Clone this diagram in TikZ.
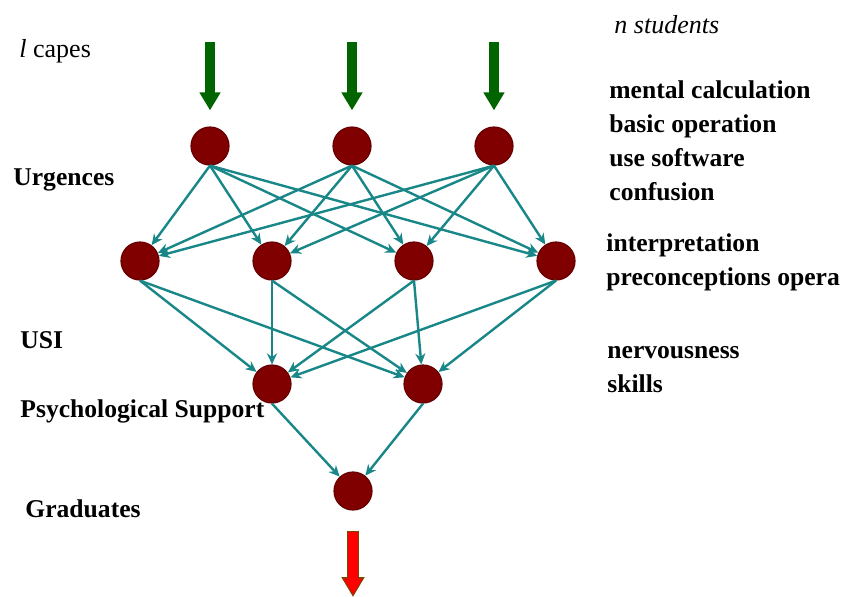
\documentclass[tikz,border=0pt]{standalone}
\usepackage{fontspec}
\setmainfont{Liberation Serif}
\usetikzlibrary{arrows.meta}
\definecolor{nodered}{RGB}{128,0,0}
\definecolor{edgeteal}{RGB}{25,135,135}
\definecolor{ingreen}{RGB}{0,100,0}
\definecolor{outedge}{RGB}{120,70,0}

\begin{document}
\begin{tikzpicture}[x=0.5pt,y=-0.5pt,
	dot/.style={circle,fill=nodered,draw=nodered!80!black,line width=0.6pt,minimum size=19pt,inner sep=0pt},
	link/.style={draw=edgeteal,line width=1.2pt,-{Stealth[length=5.5pt,width=5pt]}},
	inarrow/.style={draw=ingreen,line width=5pt,-{Triangle[width=10pt,length=9pt]},shorten >=8pt},
	lab/.style={anchor=west,inner sep=0pt,font=\bfseries\fontsize{12.8}{17}\selectfont,align=left}]
		\useasboundingbox (0,0) rectangle (845,596);
		\node[dot] (u1)at(210,146) {};
		\node[dot] (u2)at(352,146) {};
		\node[dot] (u3)at(494,146) {};
		\node[dot] (s1)at(140,261) {};
		\node[dot] (s2)at(272,261) {};
		\node[dot] (s3)at(414,261) {};
		\node[dot] (s4)at(556,261) {};
		\node[dot] (p1)at(272,384) {};
		\node[dot] (p2)at(423,384) {};
		\node[dot] (g)at(353,491) {};
		\coordinate (in1)at(210,42);
		\coordinate (in2)at(352,42);
		\coordinate (in3)at(494,42);
		\coordinate (out)at(353,597);
		
		\node[anchor=west,inner sep=0pt,font=\fontsize{13}{15}\selectfont] (capes)at(19,51) {\textit{l} capes};
		\node[anchor=west,inner sep=0pt,font=\itshape\fontsize{13}{15}\selectfont] (students)at(614,25) {n students};
		\node[lab] (urg)at(13,180) {Urgences};
		\node[lab] (usi)at(20,340) {USI};
		\node[lab] (psy)at(20,411) {Psychological Support};
		\node[lab] (grad)at(25,509) {Graduates};
		\node[lab] (tasks)at(609,141) {mental calculation\\basic operation\\use software\\confusion};
		\node[lab] (interp)at(606,262) {interpretation\\preconceptions opera};
		\node[lab] (nerv)at(607,370) {nervousness\\skills};
		
		\draw[inarrow] (in1) -- (u1.north);
		\draw[inarrow] (in2) -- (u2.north);
		\draw[inarrow] (in3) -- (u3.north);
		
		\draw[link] (u1.south) -- (s1);
		\draw[link] (u1.south) -- (s2);
		\draw[link] (u1.south) -- (s3);
		\draw[link] (u1.south) -- (s4);
		\draw[link] (u2.south) -- (s1);
		\draw[link] (u2.south) -- (s2);
		\draw[link] (u2.south) -- (s3);
		\draw[link] (u2.south) -- (s4);
		\draw[link] (u3.south) -- (s1);
		\draw[link] (u3.south) -- (s2);
		\draw[link] (u3.south) -- (s3);
		\draw[link] (u3.south) -- (s4);
		
		\draw[link] (s1.south) -- (p1);
		\draw[link] (s1.south) -- (p2);
		\draw[link] (s2.south) -- (p1);
		\draw[link] (s2.south) -- (p2);
		\draw[link] (s3.south) -- (p1);
		\draw[link] (s3.south) -- (p2);
		\draw[link] (s4.south) -- (p1);
		\draw[link] (s4.south) -- (p2);
		
		\draw[link] (p1.south) -- (g);
		\draw[link] (p2.south) -- (g);
		
		\draw[draw=outedge,line width=6pt,-{Triangle[width=11pt,length=10pt]},shorten <=10pt] (g.south) -- (out);
		\draw[draw=red,line width=4.6pt,-{Triangle[width=9pt,length=8pt]},shorten <=10.7pt,shorten >=1.2pt] (g.south) -- (out);
	\end{tikzpicture}
\end{document}
